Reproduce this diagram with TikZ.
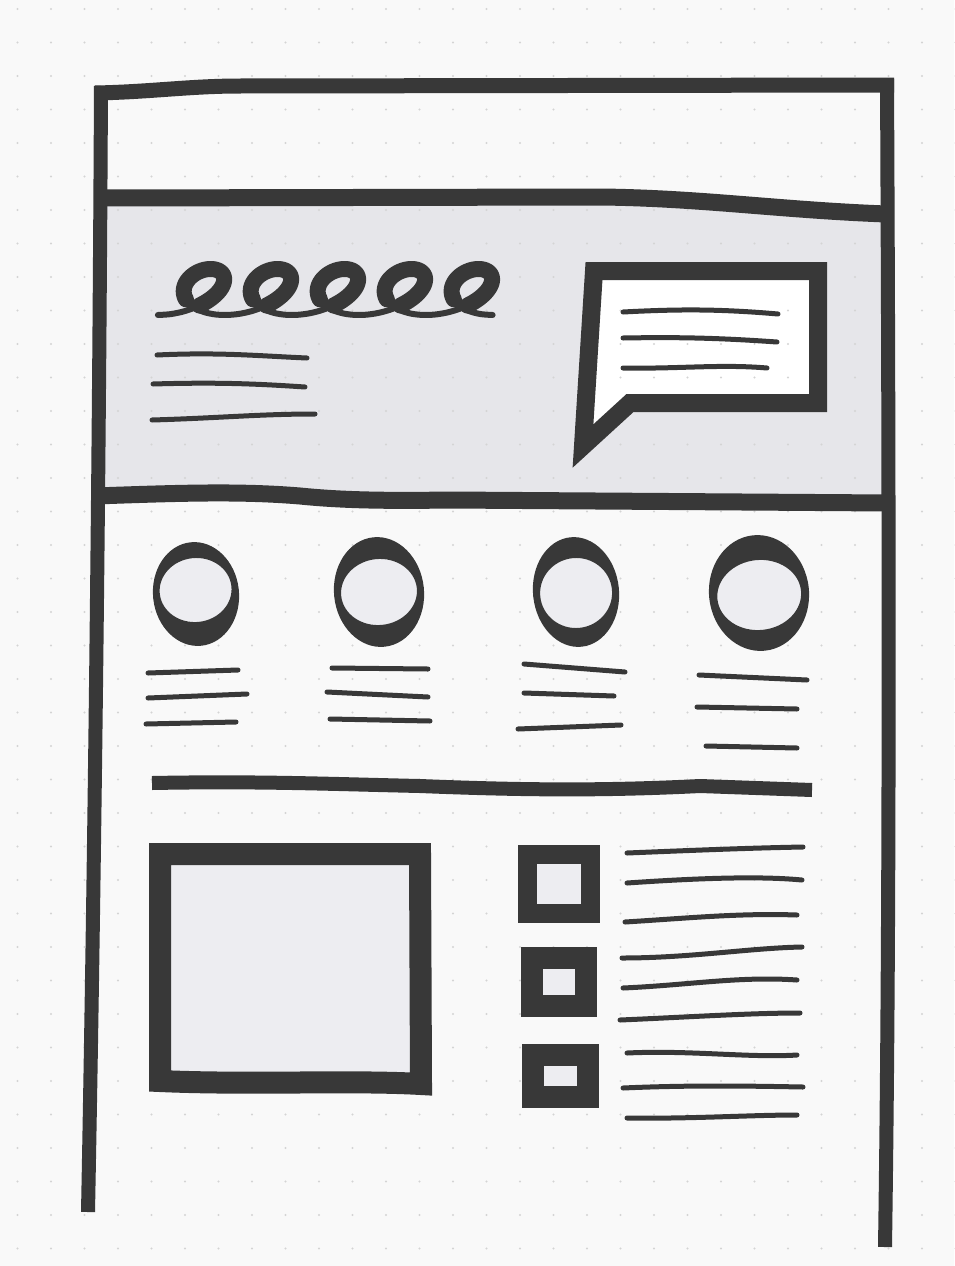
\documentclass[tikz,border=0pt]{standalone}
\definecolor{ink}{HTML}{383838}
\definecolor{paper}{HTML}{F9F9F9}
\definecolor{hero}{HTML}{E6E6EA}
\definecolor{pale}{HTML}{EDEDF1}
\definecolor{dotc}{HTML}{D4D4D4}
\tikzset{
  frameline/.style={draw=ink, line width=14pt, line cap=butt, line join=round},
  barline/.style={draw=ink, line width=16pt, line cap=butt, line join=round},
  textline/.style={draw=ink, line width=5pt, line cap=round},
  boxline/.style={draw=ink, fill=pale, line join=miter},
  scribthin/.style={draw=ink, line width=6pt, line cap=round, line join=round},
  scribthick/.style={draw=ink, line width=16pt, line cap=round, line join=round},
}
\newcommand{\wfring}[8]{% cx cy rx ry icx icy irx iry
  \begin{scope}[rotate around={6:(#1,#2)}]
    \fill[pale] (#5,#6) ellipse [x radius=#7pt, y radius=#8pt];
    \fill[ink, even odd rule] (#1,#2) ellipse [x radius=#3pt, y radius=#4pt]
                             (#5,#6) ellipse [x radius=#7pt, y radius=#8pt];
  \end{scope}}
\newcommand{\wfscrib}[2]{\draw[#1] plot[variable=\t, domain=#2, samples=120, smooth]
   ({201 + 10.66*\t - 34*sin(\t r) + 9.6*cos(\t r)}, {292 - 23*cos(\t r)});}
\begin{document}
\begin{tikzpicture}[x=1pt,y=-1pt]
\useasboundingbox (0,0) rectangle (954,1266);
\fill[paper] (0,0) rectangle (954,1266);
% hero background
\fill[hero] (100,198) -- (600,197) .. controls (700,198) and (780,210) .. (888,214)
  -- (888,503) -- (450,500) .. controls (380,501) and (340,500) .. (300,496)
  .. controls (240,491) and (180,493) .. (97,496) -- cycle;
% speech bubble fill
\fill[white] (594,271) -- (818,271) -- (818,403) -- (630,403) -- (583,446) -- cycle;
% dot grid
\foreach \i in {0,...,28} {\foreach \j in {0,...,37} {
  \fill[dotc] (17.5+33.5*\i, 9+33.5*\j) circle (1.2pt);}}
% frame
\draw[frameline] (101,86) .. controls (99,500) and (94,900) .. (88,1212);
\draw[frameline] (887,79) .. controls (889,500) and (890,900) .. (885,1247);
\draw[barline, line width=15pt] (95,93) .. controls (150,92) and (190,86) .. (240,86) -- (894,85);
\draw[barline, line width=17pt] (104,198) -- (600,197) .. controls (700,198) and (780,210) .. (886,214);
\draw[barline, line width=17pt] (95,496) .. controls (180,493) and (240,491) .. (300,496)
  .. controls (340,500) and (380,501) .. (450,500) -- (889,503);
% scribble heading
\wfscrib{scribthin}{-3.1416:28.27}
\foreach \k in {0,...,4} {\wfscrib{scribthick}{6.2832*\k-2.2:6.2832*\k+1.9}}
% hero text lines
\draw[textline] (157,355) .. controls (220,352) and (260,356) .. (307,358);
\draw[textline] (153,384) .. controls (220,382) and (260,384) .. (305,387);
\draw[textline] (152,420) .. controls (220,418) and (260,414) .. (315,414);
% speech bubble
\draw[draw=ink, line width=18pt, line join=miter] (594,271) -- (818,271) -- (818,403) -- (630,403) -- (583,446) -- cycle;
\draw[textline] (623,312) .. controls (680,309) and (720,309) .. (778,314);
\draw[textline] (623,338) .. controls (680,337) and (720,338) .. (777,342);
\draw[textline] (623,368) .. controls (680,369) and (720,364) .. (767,368);
% feature circles
\wfring{196}{594}{43}{52}{196}{590}{36}{32}
\wfring{379}{592}{45}{55}{379}{592}{38}{33}
\wfring{576}{592}{43}{55}{576}{593}{36}{35}
\wfring{759}{593}{50}{58}{759}{595}{42}{35}
% feature text lines
\draw[textline] (148,673) -- (238,670);
\draw[textline] (148,698) -- (247,694);
\draw[textline] (146,724) -- (236,722);
\draw[textline] (332,668) -- (428,669);
\draw[textline] (327,692) -- (428,697);
\draw[textline] (330,719) -- (430,721);
\draw[textline] (524,664) -- (625,672);
\draw[textline] (524,693) -- (614,696);
\draw[textline] (518,729) -- (621,725);
\draw[textline] (699,675) -- (807,680);
\draw[textline] (697,707) -- (797,709);
\draw[textline] (706,746) -- (797,748);
% separator
\draw[draw=ink, line width=14pt, line cap=butt] (152,783) .. controls (260,781) and (330,784) .. (420,786)
  .. controls (520,790) and (600,791) .. (700,786) -- (812,790);
% image box
\draw[boxline, line width=22pt] (160,854) -- (420,854) -- (421,1084)
  .. controls (350,1080) and (250,1085) .. (160,1081) -- cycle;
% checkboxes
\draw[boxline, line width=19pt] (527,854) rectangle (590,913);
\draw[boxline, line width=22pt] (532,958) rectangle (586,1006);
\draw[boxline, line width=22pt] (533,1055) rectangle (588,1097);
% list lines
\draw[textline] (627,853) .. controls (700,850) and (750,848) .. (803,847);
\draw[textline] (627,883) .. controls (700,878) and (760,876) .. (802,880);
\draw[textline] (625,922) .. controls (690,918) and (740,913) .. (797,915);
\draw[textline] (622,958) .. controls (690,958) and (750,948) .. (802,947);
\draw[textline] (623,988) .. controls (690,985) and (740,976) .. (797,980);
\draw[textline] (620,1020) .. controls (690,1017) and (750,1013) .. (800,1013);
\draw[textline] (627,1053) .. controls (690,1050) and (750,1058) .. (797,1055);
\draw[textline] (623,1088) .. controls (690,1085) and (750,1086) .. (803,1087);
\draw[textline] (627,1118) .. controls (690,1119) and (750,1115) .. (797,1115);
\end{tikzpicture}
\end{document}
